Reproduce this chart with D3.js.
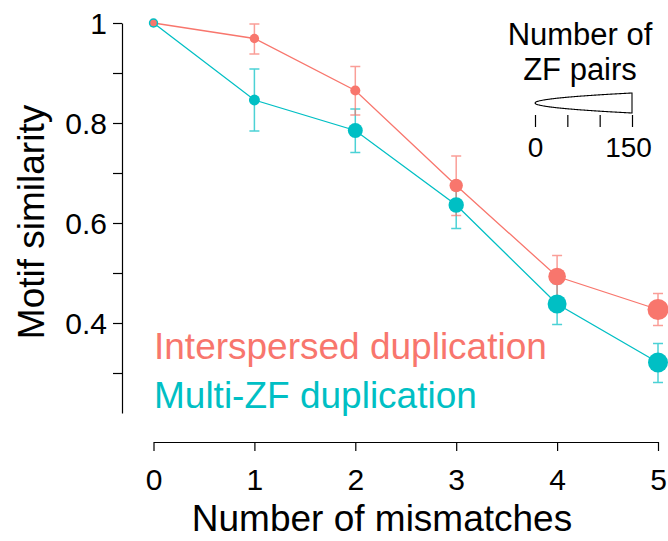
<!DOCTYPE html>
<html>
<head>
<meta charset="utf-8">
<script src="https://cdn.jsdelivr.net/npm/d3@7"></script>
<style>
  html, body { margin: 0; padding: 0; background: #fff; }
  svg { display: block; font-family: "Liberation Sans", Arial, sans-serif; }
</style>
</head>
<body>
<svg id="chart" width="668" height="541"></svg>
<script>
// ---- data ----
const mismatches = [0, 1, 2, 3, 4, 5];
const seriesNames = ["Interspersed duplication", "Multi-ZF duplication"];
const interMean = [1.0, 0.969, 0.865, 0.675, 0.493, 0.427];
const interLow  = [1.0, 0.938, 0.816, 0.615, 0.451, 0.395];
const interHigh = [1.0, 0.998, 0.913, 0.734, 0.535, 0.459];
const interPairs = [16, 33, 38, 67, 116, 165];
const multiMean = [1.0, 0.846, 0.785, 0.636, 0.438, 0.321];
const multiLow  = [1.0, 0.784, 0.741, 0.589, 0.397, 0.281];
const multiHigh = [1.0, 0.908, 0.828, 0.683, 0.479, 0.359];
const multiPairs = [33, 45, 84, 89, 135, 150];
const yTicks = [0.3, 0.4, 0.5, 0.6, 0.7, 0.8, 0.9, 1.0];
const yLabelled = [0.4, 0.6, 0.8, 1.0];
const xTicks = [0, 1, 2, 3, 4, 5];
const sizeTicks = [0, 50, 100, 150];
const sizeLabelled = [0, 150];
const colors = ["#F8766D", "#00BFC4"];

(function () {
const svg = d3.select("#chart");
const x = d3.scaleLinear().domain([0, 5]).range([153.5, 658]);
const y = d3.scaleLinear().domain([0.22, 1]).range([413, 23]);
const r = d3.scaleSqrt().domain([0, 150]).range([0, 10]);

// y axis
const yAxis = d3.axisLeft(y).tickValues(yTicks).tickSize(9).tickSizeOuter(0)
  .tickFormat(d => yLabelled.some(v => Math.abs(v - d) < 1e-9) ? d3.format("~g")(d) : "");
const gy = svg.append("g").attr("transform", "translate(122,0)").call(yAxis);
gy.selectAll("text").attr("font-size", 30).attr("fill", "#000").attr("x", -15).attr("dy", "0.35em");
gy.selectAll("line, path").attr("stroke", "#000").attr("stroke-width", 1.2);
gy.attr("font-family", null);

// x axis
const xAxis = d3.axisBottom(x).tickValues(xTicks).tickSize(9).tickSizeOuter(0).tickFormat(d3.format("d"));
const gx = svg.append("g").attr("transform", "translate(0,442)").call(xAxis);
gx.selectAll("text").attr("font-size", 30).attr("fill", "#000").attr("y", 48).attr("dy", 0);
gx.selectAll("line, path").attr("stroke", "#000").attr("stroke-width", 1.2);
gx.attr("font-family", null);

// titles
svg.append("text").attr("x", 382).attr("y", 531).attr("text-anchor", "middle")
  .attr("font-size", 37).text("Number of mismatches");
svg.append("text").attr("transform", "translate(44,222) rotate(-90)").attr("text-anchor", "middle")
  .attr("font-size", 37).text("Motif similarity");

// series
const series = [
  { name: seriesNames[1], color: colors[1], mean: multiMean, low: multiLow, high: multiHigh, n: multiPairs },
  { name: seriesNames[0], color: colors[0], mean: interMean, low: interLow, high: interHigh, n: interPairs }
];
const line = d3.line().x(d => x(d.x)).y(d => y(d.m));
const recs = s => mismatches.map((m, i) => ({ x: m, m: s.mean[i], lo: s.low[i], hi: s.high[i], n: s.n[i] }));

series.forEach(s => {
  svg.append("path").datum(recs(s)).attr("d", line).attr("fill", "none")
    .attr("stroke", s.color).attr("stroke-width", 1.3);
});
series.forEach(s => {
  const g = svg.append("g").attr("stroke", s.color).attr("stroke-width", 1.5).attr("opacity", 0.7);
  recs(s).filter(d => d.x > 0).forEach(d => {
    g.append("line").attr("x1", x(d.x)).attr("x2", x(d.x)).attr("y1", y(d.lo)).attr("y2", y(d.hi));
    g.append("line").attr("x1", x(d.x) - 5).attr("x2", x(d.x) + 5).attr("y1", y(d.lo)).attr("y2", y(d.lo));
    g.append("line").attr("x1", x(d.x) - 5).attr("x2", x(d.x) + 5).attr("y1", y(d.hi)).attr("y2", y(d.hi));
  });
});
series.forEach(s => {
  svg.append("g").selectAll("circle").data(recs(s)).join("circle")
    .attr("cx", d => x(d.x)).attr("cy", d => y(d.m)).attr("r", d => r(d.n))
    .attr("fill", s.color);
});

// color legend
svg.append("text").attr("x", 154).attr("y", 359).attr("font-size", 37).attr("fill", colors[0]).text(seriesNames[0]);
svg.append("text").attr("x", 154).attr("y", 408).attr("font-size", 37).attr("fill", colors[1]).text(seriesNames[1]);

// size legend
svg.append("text").attr("x", 580).attr("y", 45).attr("text-anchor", "middle").attr("font-size", 31).text("Number of");
svg.append("text").attr("x", 580).attr("y", 80).attr("text-anchor", "middle").attr("font-size", 31).text("ZF pairs");
const sx = d3.scaleLinear().domain([0, 150]).range([535, 632]);
const wy = 103;
const ns = d3.range(0, 150.5, 1);
const upper = ns.map(n => [sx(n), wy - r(n)]);
const lower = ns.slice().reverse().map(n => [sx(n), wy + r(n)]);
svg.append("path").attr("d", d3.line()(upper.concat(lower)) + "Z")
  .attr("fill", "#fff").attr("stroke", "#000").attr("stroke-width", 1.1);
const sAxis = d3.axisBottom(sx).tickValues(sizeTicks).tickSize(12).tickSizeOuter(0)
  .tickFormat(d => sizeLabelled.includes(d) ? d : "");
const gs = svg.append("g").attr("transform", "translate(0,115)").call(sAxis);
gs.select(".domain").remove();
gs.selectAll("line").attr("stroke", "#000").attr("stroke-width", 1.2);
gs.selectAll("text").attr("font-size", 28).attr("fill", "#000").attr("y", 42).attr("dy", 0)
  .attr("x", d => d === 150 ? -4 : 0);
gs.attr("font-family", null);
})();
</script>
</body>
</html>
